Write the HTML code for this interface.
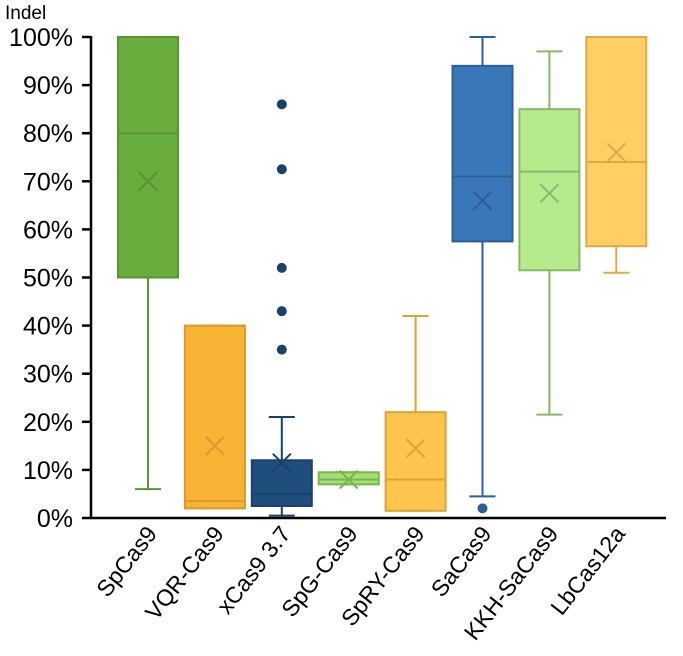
<!DOCTYPE html>
<html><head><meta charset="utf-8"><style>
body{margin:0;background:#fff}
svg{display:block;font-family:"Liberation Sans",Arial,sans-serif}
</style></head><body>
<svg id="c" width="683" height="656">
<text x="5" y="19" font-size="19">Indel</text>
</svg>
<script>
const categories=["SpCas9","VQR-Cas9","xCas9 3.7","SpG-Cas9","SpRY-Cas9","SaCas9","KKH-SaCas9","LbCas12a"];
const q1s=[50,2,2.5,7,1.5,57.5,51.5,56.5];
const q3s=[100,40,12,9.5,22,94,85,100];
const medians=[80,3.5,5,8,8,71,72,74];
const means=[70,15,11.5,8,14.5,66,67.5,76];
const mins=[6,2,0.5,7,1.5,4.5,21.5,51];
const maxs=[100,40,21,9.5,42,100,97,100];
const outliers=[[],[],[35,43,52,72.5,86],[],[],[2],[],[]];
const yTicks=[0,10,20,30,40,50,60,70,80,90,100];
const fills=["#68ad3d","#f8b335","#1f4e7d","#a6df79","#fdc44e","#3a77b9","#b5eb8d","#ffcf63"];
const strokes=["#5a9433","#d99a2c","#1a416a","#78b44f","#d9a436","#2d5f96","#8ab86a","#d9ab48"];
const svg=document.getElementById('c');const NS="http://www.w3.org/2000/svg";
const y=v=>518-v*4.81;
const xc=i=>148+i*66.9;
const bw=60;
function el(t,a,p){const e=document.createElementNS(NS,t);for(const k in a)e.setAttribute(k,a[k]);(p||svg).appendChild(e);return e;}
yTicks.forEach(t=>{
 const tx=el('text',{x:73,y:y(t)+9,'font-size':25,'text-anchor':'end'});tx.textContent=t+'%';
 
 
 const l=el('line',{x1:82,x2:91,y1:y(t),y2:y(t),stroke:'#000','stroke-width':2.5});
 
 
});
categories.forEach((c,i)=>{
 const g=el('g',{});
 
 
 const x=xc(i),s=strokes[i];
 el('line',{x1:x,x2:x,y1:y(maxs[i]),y2:y(q3s[i]),stroke:s,'stroke-width':2},g);
 el('line',{x1:x,x2:x,y1:y(q1s[i]),y2:y(mins[i]),stroke:s,'stroke-width':2},g);
 el('line',{x1:x-13,x2:x+13,y1:y(maxs[i]),y2:y(maxs[i]),stroke:s,'stroke-width':2},g);
 el('line',{x1:x-13,x2:x+13,y1:y(mins[i]),y2:y(mins[i]),stroke:s,'stroke-width':2},g);
 el('rect',{x:x-bw/2,y:y(q3s[i]),width:bw,height:y(q1s[i])-y(q3s[i]),fill:fills[i],stroke:s,'stroke-width':2},g);
 el('line',{x1:x-bw/2,x2:x+bw/2,y1:y(medians[i]),y2:y(medians[i]),stroke:s,'stroke-width':2},g);
 const m=y(means[i]);
 el('path',{d:`M${x-9} ${m-9}L${x+9} ${m+9}M${x+9} ${m-9}L${x-9} ${m+9}`,stroke:s,'stroke-width':2,fill:'none'},g);
 outliers[i].forEach(o=>{const d=el('circle',{cx:x,cy:y(o),r:5,fill:s},g);
  
  });
 const t=el('text',{x:0,y:0,'font-size':23,'text-anchor':'end',transform:`translate(${x+10},${534}) rotate(-52)`});
 t.textContent=c;
 
 
});
const ya=el('line',{x1:91,x2:91,y1:36,y2:519,stroke:'#000','stroke-width':2.5});


const xa=el('line',{x1:90,x2:666,y1:518,y2:518,stroke:'#000','stroke-width':2.5});


</script>
</body></html>
